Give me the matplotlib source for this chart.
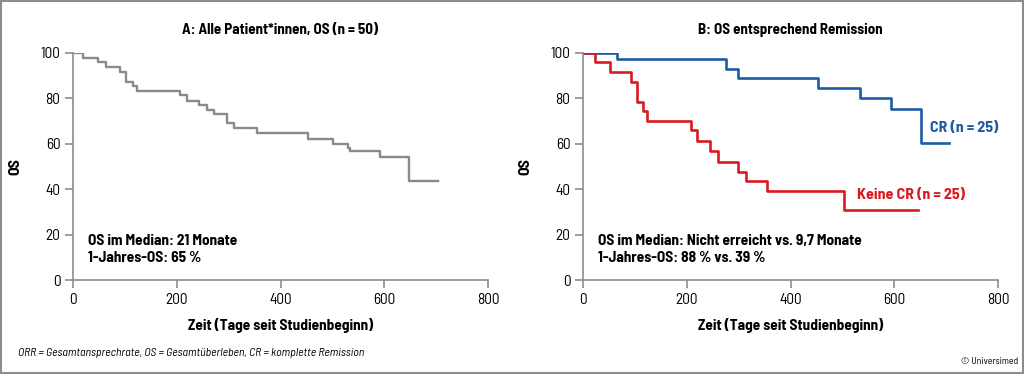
import matplotlib
matplotlib.use("Agg")
import matplotlib.pyplot as plt
from matplotlib.patches import Rectangle

plt.rcParams['font.family'] = ['Barlow Semi Condensed', 'DejaVu Sans']

# Panel A: all patients
a_days = [0, 19, 48, 64, 90, 102, 115, 123, 206, 219, 243, 258, 272, 296, 310, 354, 453, 501, 530, 534, 592, 648, 704]
a_os = [100, 97.7, 95.9, 93.7, 91.5, 87.4, 85.6, 83.4, 81.5, 78.9, 77.1, 74.9, 73.1, 69.3, 67.0, 64.6, 62.1, 60.0, 58.0, 57.0, 54.1, 43.6, 43.6]

# Panel B: CR vs no CR
cr_days = [0, 65, 275, 298, 453, 534, 593, 651, 706]
cr_os = [100, 97.4, 93.0, 89.0, 84.4, 80.3, 75.2, 60.5, 60.5]
ncr_days = [0, 24, 53, 92, 105, 116, 124, 209, 219, 245, 260, 299, 314, 355, 504, 646]
ncr_os = [100, 96.2, 91.5, 87.4, 78.6, 74.4, 70.0, 66.1, 61.4, 57.0, 51.8, 47.7, 43.6, 39.2, 30.8, 30.8]

x_ticks = [0, 200, 400, 600, 800]
y_ticks = [0, 20, 40, 60, 80, 100]

GRAY = '#8a8a8a'
BLUE = '#1c5ba6'
RED = '#d91a20'

fig = plt.figure(figsize=(10.24, 3.74), dpi=100)
fig.patches.append(Rectangle((0.001, 0.002), 0.998, 0.996, transform=fig.transFigure,
                             fill=False, edgecolor='#8c8c8c', linewidth=1.5))

axA = fig.add_axes([73/1024, 94/374, 415/1024, 227/374])
axB = fig.add_axes([583/1024, 94/374, 415/1024, 227/374])

for ax in (axA, axB):
    ax.set_xlim(0, 800)
    ax.set_ylim(0, 100)
    ax.set_xticks(x_ticks)
    ax.set_yticks(y_ticks)
    for s in ('top', 'right'):
        ax.spines[s].set_visible(False)
    for s in ('left', 'bottom'):
        ax.spines[s].set_color('#8c8c8c')
        ax.spines[s].set_linewidth(1.2)
    ax.tick_params(colors='#8c8c8c', labelcolor='black', labelsize=11, length=5.5, width=1.2)
    ax.set_xlabel('Zeit (Tage seit Studienbeginn)', fontsize=11, fontweight='bold', labelpad=8)
    ax.set_ylabel('OS', fontsize=11.5, fontweight='bold')
    ax.yaxis.set_label_coords(-0.123, 0.5)

axA.step(a_days, a_os, where='post', color=GRAY, linewidth=1.7)
axA.set_title('A: Alle Patient*innen, OS (n\u2009=\u200950)', fontsize=10.8, fontweight='bold', pad=13.5)
axA.text(29, 17.0, 'OS im Median: 21 Monate', fontsize=11, fontweight='bold', va='center')
axA.text(29, 9.5, '1-Jahres-OS: 65 %', fontsize=11, fontweight='bold', va='center')

axB.step(cr_days, cr_os, where='post', color=BLUE, linewidth=1.9)
axB.step(ncr_days, ncr_os, where='post', color=RED, linewidth=1.9)
axB.set_title('B: OS entsprechend Remission', fontsize=10.8, fontweight='bold', pad=13.5)
axB.text(668, 67, 'CR (n\u2009=\u200925)', color=BLUE, fontsize=11.5, fontweight='bold', va='center')
axB.text(529, 37.5, 'Keine CR (n\u2009=\u200925)', color=RED, fontsize=11.5, fontweight='bold', va='center')
axB.text(29, 17.0, 'OS im Median: Nicht erreicht vs. 9,7 Monate', fontsize=11, fontweight='bold', va='center')
axB.text(29, 9.5, '1-Jahres-OS: 88 % vs. 39 %', fontsize=11, fontweight='bold', va='center')

fig.text(18/1024, 1 - 353/374, 'ORR = Gesamtansprechrate, OS = Gesamtüberleben, CR = komplette Remission',
         fontsize=8.5, style='italic', va='center', ha='left')
fig.text(1018/1024, 1 - 361/374, '© Universimed', fontsize=7, va='center', ha='right')

fig.savefig('out.png', dpi=100)
